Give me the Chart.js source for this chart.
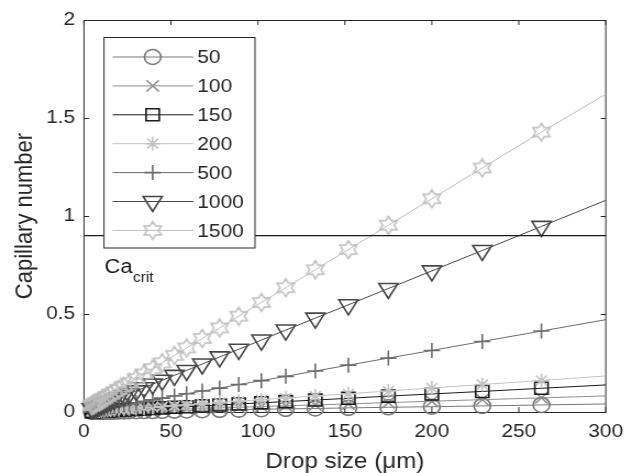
<!DOCTYPE html>
<html>
<head>
<meta charset="utf-8">
<script src="https://cdn.jsdelivr.net/npm/chart.js"></script>
<style>
  html, body { margin: 0; padding: 0; background: #fff; overflow: hidden; }
  #wrap { width: 632px; height: 473px; overflow: hidden; }
  #c { transform: scaleX(1.0991); transform-origin: 0 0; }
</style>
</head>
<body>
<div id="wrap"><canvas id="c" width="575" height="473"></canvas></div>
<script>
// ---------------- data ----------------
const dropSizes = [4.5, 5.2, 5.9, 6.8, 7.8, 8.9, 10.2, 11.7, 13.4, 15.3, 17.5, 20, 23, 26, 30, 34.5, 39.5, 45, 52, 59, 68, 78, 89, 102, 116, 133, 152, 175, 200, 229, 263, 300];
const ca50   = [0.001,0.001,0.001,0.001,0.001,0.001,0.001,0.002,0.002,0.002,0.002,0.003,0.003,0.004,0.004,0.005,0.005,0.006,0.007,0.008,0.009,0.011,0.012,0.014,0.016,0.018,0.021,0.024,0.027,0.031,0.036,0.041];
const ca100  = [0.001,0.001,0.002,0.002,0.002,0.002,0.003,0.003,0.004,0.004,0.005,0.005,0.006,0.007,0.008,0.009,0.011,0.012,0.014,0.016,0.019,0.021,0.024,0.028,0.032,0.036,0.041,0.048,0.055,0.063,0.072,0.082];
const ca150  = [0.002,0.002,0.003,0.003,0.004,0.004,0.005,0.005,0.006,0.007,0.008,0.009,0.011,0.012,0.014,0.016,0.018,0.021,0.024,0.027,0.031,0.036,0.041,0.047,0.053,0.061,0.070,0.081,0.092,0.105,0.121,0.138];
const ca200  = [0.003,0.003,0.004,0.004,0.005,0.005,0.006,0.007,0.008,0.009,0.011,0.012,0.014,0.016,0.018,0.021,0.024,0.028,0.032,0.036,0.042,0.048,0.055,0.063,0.071,0.082,0.093,0.107,0.123,0.140,0.161,0.184];
const ca500  = [0.007,0.008,0.009,0.011,0.012,0.014,0.016,0.018,0.021,0.024,0.027,0.031,0.036,0.041,0.047,0.054,0.062,0.071,0.082,0.093,0.107,0.122,0.140,0.160,0.182,0.209,0.239,0.275,0.314,0.360,0.413,0.471];
const ca1000 = [0.016,0.019,0.021,0.024,0.028,0.032,0.037,0.042,0.048,0.055,0.063,0.072,0.083,0.094,0.108,0.124,0.142,0.162,0.187,0.212,0.245,0.281,0.320,0.367,0.418,0.479,0.547,0.630,0.720,0.824,0.947,1.080];
const ca1500 = [0.032,0.036,0.040,0.045,0.050,0.056,0.063,0.071,0.080,0.091,0.103,0.116,0.132,0.148,0.170,0.194,0.221,0.251,0.289,0.327,0.375,0.429,0.489,0.559,0.634,0.726,0.829,0.953,1.088,1.245,1.428,1.622];
const seriesLabels = ['50', '100', '150', '200', '500', '1000', '1500'];
const caCrit = 0.9;
const xTickValues = [0, 50, 100, 150, 200, 250, 300];
const yTickValues = [0, 0.5, 1, 1.5, 2];
const xTitle = 'Drop size (\u03BCm)';
const yTitle = 'Capillary number';

// ---------------- styles ----------------
const SX = 632 / 575; // horizontal stretch of the figure
function makeHexagram(color) {
  const s = 21, c = document.createElement('canvas');
  c.width = s; c.height = s;
  const g = c.getContext('2d');
  const R = 9, r = R / Math.sqrt(3);
  g.strokeStyle = color; g.lineWidth = 1.5; g.lineJoin = 'miter';
  g.beginPath();
  for (let k = 0; k < 12; k++) {
    const ang = -Math.PI / 2 + k * Math.PI / 6;
    const rad = (k % 2 === 0) ? R : r;
    const px = s / 2 + rad * Math.cos(ang), py = s / 2 + rad * Math.sin(ang);
    if (k === 0) g.moveTo(px, py); else g.lineTo(px, py);
  }
  g.closePath(); g.stroke();
  return c;
}
const styles = [
  { color: '#777777', point: 'circle',   radius: 7.5, rot: 0 },
  { color: '#8f8f8f', point: 'crossRot', radius: 8,   rot: 0 },
  { color: '#1a1a1a', point: 'rect',     radius: 8.5, rot: 0 },
  { color: '#c3c3c3', point: 'star',     radius: 7,   rot: 0 },
  { color: '#6c6c6c', point: 'cross',    radius: 7.5, rot: 0 },
  { color: '#474747', point: 'triangle', radius: 10,  rot: 180 },
  { color: '#bdbdbd', point: makeHexagram('#bdbdbd'), radius: 9, rot: 0 }
];
const seriesValues = [ca50, ca100, ca150, ca200, ca500, ca1000, ca1500];

Chart.defaults.font.family = '"Liberation Sans", Arial, Helvetica, sans-serif';
Chart.defaults.color = '#262626';

const datasets = seriesValues.map((vals, i) => ({
  label: seriesLabels[i],
  data: dropSizes.map((d, j) => ({ x: d, y: vals[j] })),
  borderColor: styles[i].color,
  borderWidth: 1,
  pointStyle: styles[i].point,
  pointRotation: styles[i].rot,
  pointRadius: (ctx) => (ctx.dataIndex === dropSizes.length - 1 ? 0 : styles[i].radius),
  pointBorderColor: styles[i].color,
  pointBackgroundColor: 'rgba(0,0,0,0)',
  pointBorderWidth: 1.6,
  tension: 0,
  clip: false,
  order: 10 - i
}));
datasets.push({
  label: 'Ca_crit',
  data: [{ x: 0, y: caCrit }, { x: 300, y: caCrit }],
  borderColor: '#1a1a1a',
  borderWidth: 1.3,
  pointRadius: 0,
  order: 0
});

function drawMarker(ctx, st, x, y) {
  ctx.save();
  ctx.strokeStyle = st.color;
  ctx.fillStyle = 'rgba(0,0,0,0)';
  ctx.lineWidth = 1.6;
  if (Chart.helpers && Chart.helpers.drawPoint) {
    Chart.helpers.drawPoint(ctx, { pointStyle: st.point, rotation: st.rot, radius: st.radius, borderWidth: 1.6 }, x, y);
  }
  ctx.restore();
}

const framePlugin = {
  id: 'framePlugin',
  beforeDatasetsDraw(chart) {
    const { ctx, chartArea: a, scales: { x, y } } = chart;
    ctx.save();
    ctx.strokeStyle = '#262626';
    ctx.lineWidth = 1;
    ctx.strokeRect(a.left, Math.round(a.top) + 0.5, a.right - a.left, Math.round(a.bottom) - Math.round(a.top));
    ctx.beginPath();
    xTickValues.forEach(v => {
      const px = x.getPixelForValue(v);
      ctx.moveTo(px, a.bottom); ctx.lineTo(px, a.bottom - 5);
      ctx.moveTo(px, a.top); ctx.lineTo(px, a.top + 5);
    });
    yTickValues.forEach(v => {
      const py = Math.round(y.getPixelForValue(v)) + 0.5;
      ctx.moveTo(a.left, py); ctx.lineTo(a.left + 5 / SX, py);
      ctx.moveTo(a.right, py); ctx.lineTo(a.right - 5 / SX, py);
    });
    ctx.stroke();
    ctx.restore();
  },
  afterDatasetsDraw(chart) {
    const { ctx } = chart;
    // Ca_crit label
    ctx.save();
    ctx.fillStyle = '#1a1a1a';
    ctx.textBaseline = 'alphabetic';
    ctx.font = '20px "Liberation Sans", Arial, sans-serif';
    ctx.fillText('Ca', 95, 273);
    const w = ctx.measureText('Ca').width;
    ctx.font = '14px "Liberation Sans", Arial, sans-serif';
    ctx.fillText('crit', 95 + w + 0.5, 282);
    ctx.restore();

    // legend box
    const L = 94.6, R = 232, T = 37.5, B = 248;
    ctx.save();
    ctx.fillStyle = '#ffffff';
    ctx.fillRect(L, T, R - L, B - T);
    ctx.strokeStyle = '#262626';
    ctx.lineWidth = 1;
    ctx.strokeRect(L, T, R - L, B - T);
    seriesLabels.forEach((lab, i) => {
      const yy = 57 + i * 28.9;
      const st = styles[i];
      ctx.beginPath();
      ctx.strokeStyle = st.color;
      ctx.lineWidth = 1;
      ctx.moveTo(102.5, yy); ctx.lineTo(175.9, yy);
      ctx.stroke();
      drawMarker(ctx, st, 138.9, yy);
      ctx.fillStyle = '#262626';
      ctx.font = '19px "Liberation Sans", Arial, sans-serif';
      ctx.textBaseline = 'middle';
      ctx.textAlign = 'left';
      ctx.fillText(lab, 179.5, yy + 1);
    });
    ctx.restore();
  }
};

new Chart(document.getElementById('c'), {
  type: 'line',
  data: { datasets },
  options: {
    responsive: false,
    devicePixelRatio: 1,
    animation: false,
    layout: { padding: { left: 0, right: 18, top: 20, bottom: 0 } },
    plugins: { legend: { display: false }, tooltip: { enabled: false } },
    scales: {
      x: {
        type: 'linear', min: 0, max: 300,
        afterBuildTicks: s => { s.ticks = xTickValues.map(v => ({ value: v })); },
        afterFit: s => { s.height = 61; },
        grid: { display: false, drawTicks: false },
        border: { display: false },
        ticks: { font: { size: 19 }, color: '#262626', padding: 8, maxRotation: 0, callback: v => String(v) },
        title: { display: true, text: xTitle, font: { size: 22, lineHeight: 1 }, color: '#262626', padding: { top: 0, bottom: 0 } }
      },
      y: {
        type: 'linear', min: 0, max: 2,
        afterBuildTicks: s => { s.ticks = yTickValues.map(v => ({ value: v })); },
        afterFit: s => { s.width = 76.4; },
        grid: { display: false, drawTicks: false },
        border: { display: false },
        ticks: { font: { size: 19 }, color: '#262626', padding: 8, callback: v => String(v) },
        title: { display: true, text: yTitle, font: { size: 22, lineHeight: 1 }, color: '#262626', padding: { top: 12, bottom: 0 } }
      }
    }
  },
  plugins: [framePlugin]
});
</script>
</body>
</html>
